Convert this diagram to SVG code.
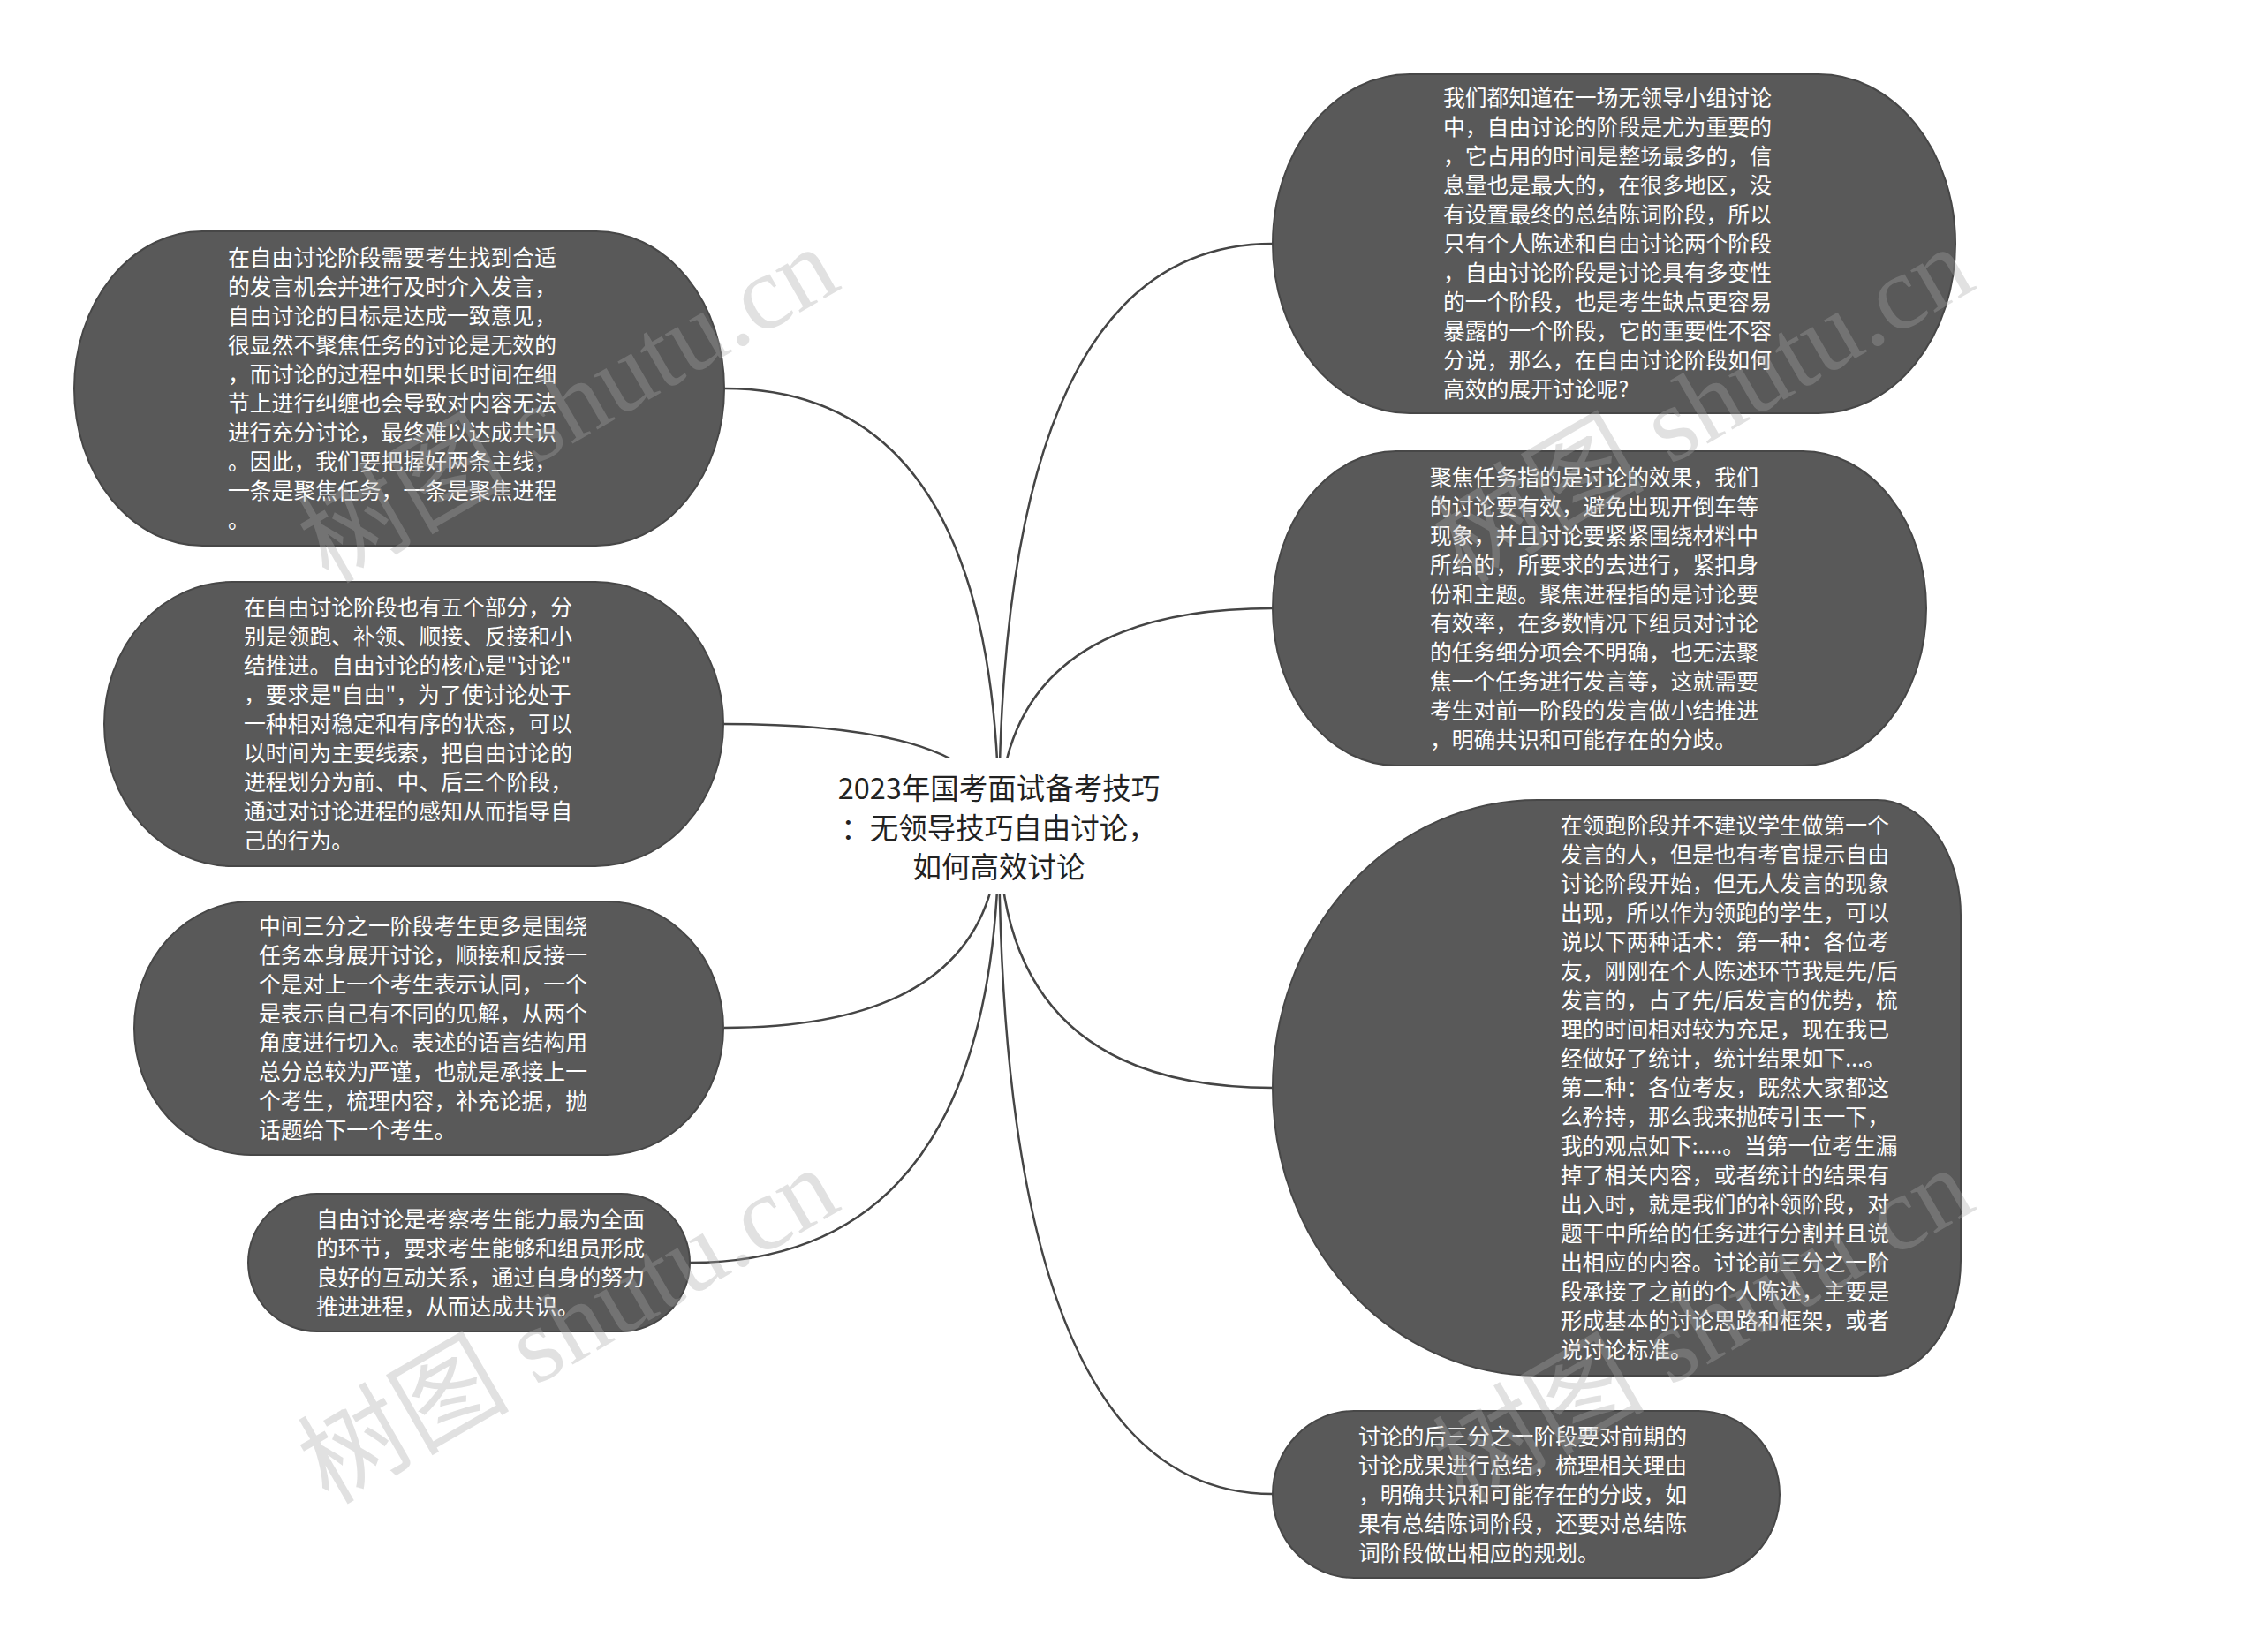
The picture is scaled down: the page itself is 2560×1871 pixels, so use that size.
<svg xmlns="http://www.w3.org/2000/svg" width="2560" height="1871" viewBox="0 0 2560 1871">
<style>
.node{fill:#595959;stroke:#474747;stroke-width:2}
.nt{font-family:"Noto Sans CJK SC","Noto Sans",sans-serif;font-size:24.8px;fill:#ffffff}
.root{font-family:"Noto Sans CJK SC","Noto Sans",sans-serif;font-size:32.5px;fill:#222222;text-anchor:middle}
.conn{fill:none;stroke:#454545;stroke-width:2.5}
.wm{font-family:"Liberation Serif","Noto Sans CJK SC",serif;font-size:120px;fill:#a7a7a7;fill-opacity:0.34}
</style>
<rect x="0" y="0" width="2560" height="1871" fill="#ffffff"/>
<g id="connectors">
<path class="conn" d="M1131 937 Q1131 276 1441 276"/>
<path class="conn" d="M1131 937 Q1131 689 1441 689"/>
<path class="conn" d="M1131 937 Q1131 1232 1441 1232"/>
<path class="conn" d="M1131 937 Q1131 1692 1441 1692"/>
<path class="conn" d="M1131 937 Q1131 440 820 440"/>
<path class="conn" d="M1131 937 Q1131 820 819 820"/>
<path class="conn" d="M1131 937 Q1131 1164 820 1164"/>
<path class="conn" d="M1131 937 Q1131 1430 781 1430"/>
</g>
<g id="root">
<rect x="935" y="858" width="395" height="154" fill="#ffffff"/>
<text class="root"><tspan x="1131" y="905">2023年国考面试备考技巧</tspan><tspan x="1131" y="950">：无领导技巧自由讨论，</tspan><tspan x="1131" y="994">如何高效讨论</tspan></text>
</g>
<g id="node-r1">
<rect class="node" x="1441" y="84" width="773" height="384" rx="155" ry="192"/>
<text class="nt" y="120"><tspan x="1634">我们都知道在一场无领导小组讨论</tspan><tspan x="1634" dy="33">中，自由讨论的阶段是尤为重要的</tspan><tspan x="1634" dy="33">，它占用的时间是整场最多的，信</tspan><tspan x="1634" dy="33">息量也是最大的，在很多地区，没</tspan><tspan x="1634" dy="33">有设置最终的总结陈词阶段，所以</tspan><tspan x="1634" dy="33">只有个人陈述和自由讨论两个阶段</tspan><tspan x="1634" dy="33">，自由讨论阶段是讨论具有多变性</tspan><tspan x="1634" dy="33">的一个阶段，也是考生缺点更容易</tspan><tspan x="1634" dy="33">暴露的一个阶段，它的重要性不容</tspan><tspan x="1634" dy="33">分说，那么，在自由讨论阶段如何</tspan><tspan x="1634" dy="33">高效的展开讨论呢?</tspan></text>
</g>
<g id="node-r2">
<rect class="node" x="1441" y="511" width="740" height="356" rx="140" ry="178"/>
<text class="nt" y="550"><tspan x="1619">聚焦任务指的是讨论的效果，我们</tspan><tspan x="1619" dy="33">的讨论要有效，避免出现开倒车等</tspan><tspan x="1619" dy="33">现象，并且讨论要紧紧围绕材料中</tspan><tspan x="1619" dy="33">所给的，所要求的去进行，紧扣身</tspan><tspan x="1619" dy="33">份和主题。聚焦进程指的是讨论要</tspan><tspan x="1619" dy="33">有效率，在多数情况下组员对讨论</tspan><tspan x="1619" dy="33">的任务细分项会不明确，也无法聚</tspan><tspan x="1619" dy="33">焦一个任务进行发言等，这就需要</tspan><tspan x="1619" dy="33">考生对前一阶段的发言做小结推进</tspan><tspan x="1619" dy="33">，明确共识和可能存在的分歧。</tspan></text>
</g>
<g id="node-r3">
<path class="node" d="M1741 906 H2125 A95 130 0 0 1 2220 1036 V1428 A95 130 0 0 1 2125 1558 H1741 A300 326 0 0 1 1441 1232 A300 326 0 0 1 1741 906 Z"/>
<text class="nt" y="944"><tspan x="1767">在领跑阶段并不建议学生做第一个</tspan><tspan x="1767" dy="33">发言的人，但是也有考官提示自由</tspan><tspan x="1767" dy="33">讨论阶段开始，但无人发言的现象</tspan><tspan x="1767" dy="33">出现，所以作为领跑的学生，可以</tspan><tspan x="1767" dy="33">说以下两种话术：第一种：各位考</tspan><tspan x="1767" dy="33">友，刚刚在个人陈述环节我是先/后</tspan><tspan x="1767" dy="33">发言的，占了先/后发言的优势，梳</tspan><tspan x="1767" dy="33">理的时间相对较为充足，现在我已</tspan><tspan x="1767" dy="33">经做好了统计，统计结果如下...。</tspan><tspan x="1767" dy="33">第二种：各位考友，既然大家都这</tspan><tspan x="1767" dy="33">么矜持，那么我来抛砖引玉一下，</tspan><tspan x="1767" dy="33">我的观点如下:....。当第一位考生漏</tspan><tspan x="1767" dy="33">掉了相关内容，或者统计的结果有</tspan><tspan x="1767" dy="33">出入时，就是我们的补领阶段，对</tspan><tspan x="1767" dy="33">题干中所给的任务进行分割并且说</tspan><tspan x="1767" dy="33">出相应的内容。讨论前三分之一阶</tspan><tspan x="1767" dy="33">段承接了之前的个人陈述，主要是</tspan><tspan x="1767" dy="33">形成基本的讨论思路和框架，或者</tspan><tspan x="1767" dy="33">说讨论标准。</tspan></text>
</g>
<g id="node-r4">
<rect class="node" x="1441" y="1598" width="574" height="189" rx="92" ry="94.5"/>
<text class="nt" y="1636"><tspan x="1538">讨论的后三分之一阶段要对前期的</tspan><tspan x="1538" dy="33">讨论成果进行总结，梳理相关理由</tspan><tspan x="1538" dy="33">，明确共识和可能存在的分歧，如</tspan><tspan x="1538" dy="33">果有总结陈词阶段，还要对总结陈</tspan><tspan x="1538" dy="33">词阶段做出相应的规划。</tspan></text>
</g>
<g id="node-l1">
<rect class="node" x="84" y="262" width="736" height="356" rx="145" ry="178"/>
<text class="nt" y="301"><tspan x="258">在自由讨论阶段需要考生找到合适</tspan><tspan x="258" dy="33">的发言机会并进行及时介入发言，</tspan><tspan x="258" dy="33">自由讨论的目标是达成一致意见，</tspan><tspan x="258" dy="33">很显然不聚焦任务的讨论是无效的</tspan><tspan x="258" dy="33">，而讨论的过程中如果长时间在细</tspan><tspan x="258" dy="33">节上进行纠缠也会导致对内容无法</tspan><tspan x="258" dy="33">进行充分讨论，最终难以达成共识</tspan><tspan x="258" dy="33">。因此，我们要把握好两条主线，</tspan><tspan x="258" dy="33">一条是聚焦任务，一条是聚焦进程</tspan><tspan x="258" dy="33">。</tspan></text>
</g>
<g id="node-l2">
<rect class="node" x="118" y="659" width="701" height="322" rx="145" ry="161"/>
<text class="nt" y="697"><tspan x="276">在自由讨论阶段也有五个部分，分</tspan><tspan x="276" dy="33">别是领跑、补领、顺接、反接和小</tspan><tspan x="276" dy="33">结推进。自由讨论的核心是"讨论"</tspan><tspan x="276" dy="33">，要求是"自由"，为了使讨论处于</tspan><tspan x="276" dy="33">一种相对稳定和有序的状态，可以</tspan><tspan x="276" dy="33">以时间为主要线索，把自由讨论的</tspan><tspan x="276" dy="33">进程划分为前、中、后三个阶段，</tspan><tspan x="276" dy="33">通过对讨论进程的感知从而指导自</tspan><tspan x="276" dy="33">己的行为。</tspan></text>
</g>
<g id="node-l3">
<rect class="node" x="152" y="1021" width="667" height="287" rx="132" ry="143.5"/>
<text class="nt" y="1058"><tspan x="293">中间三分之一阶段考生更多是围绕</tspan><tspan x="293" dy="33">任务本身展开讨论，顺接和反接一</tspan><tspan x="293" dy="33">个是对上一个考生表示认同，一个</tspan><tspan x="293" dy="33">是表示自己有不同的见解，从两个</tspan><tspan x="293" dy="33">角度进行切入。表述的语言结构用</tspan><tspan x="293" dy="33">总分总较为严谨，也就是承接上一</tspan><tspan x="293" dy="33">个考生，梳理内容，补充论据，抛</tspan><tspan x="293" dy="33">话题给下一个考生。</tspan></text>
</g>
<g id="node-l4">
<rect class="node" x="281" y="1352" width="500" height="156" rx="78" ry="78"/>
<text class="nt" y="1390"><tspan x="358">自由讨论是考察考生能力最为全面</tspan><tspan x="358" dy="33">的环节，要求考生能够和组员形成</tspan><tspan x="358" dy="33">良好的互动关系，通过自身的努力</tspan><tspan x="358" dy="33">推进进程，从而达成共识。</tspan></text>
</g>
<g id="watermarks">
<text class="wm" x="372" y="662" transform="rotate(-30 372 662)">树图 shutu.cn</text>
<text class="wm" x="1657" y="662" transform="rotate(-30 1657 662)">树图 shutu.cn</text>
<text class="wm" x="372" y="1705" transform="rotate(-30 372 1705)">树图 shutu.cn</text>
<text class="wm" x="1657" y="1705" transform="rotate(-30 1657 1705)">树图 shutu.cn</text>
</g>
</svg>
